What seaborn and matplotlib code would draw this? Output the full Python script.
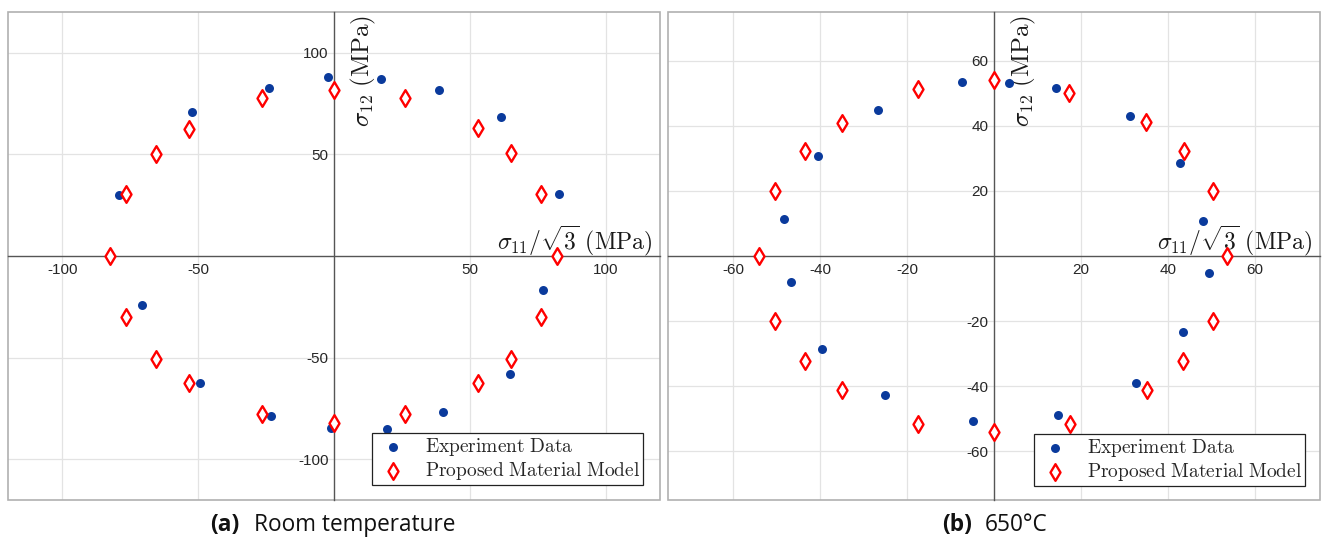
import numpy as np
import pandas as pd
import matplotlib
matplotlib.use("Agg")
import matplotlib.pyplot as plt
from matplotlib.patches import Rectangle
import seaborn as sns

# ---------------- data ----------------
rt_exp_x = [-79.1, -52.4, -24.1, -2.1, 17.2, 38.6, 61.4, 83.0, 77.1, 64.8, 40.3, 19.6, -1.2, -23.3, -49.3, -70.7]
rt_exp_y = [29.9, 70.7, 82.5, 87.9, 87.1, 81.4, 68.5, 30.5, -16.7, -57.8, -76.6, -85.0, -84.6, -78.9, -62.7, -24.0]
rt_mod_x = [-82.4, -76.6, -65.5, -53.2, -26.4, 0.0, 26.1, 52.9, 65.0, 76.1, 82.1, 76.1, 65.0, 52.9, 26.1, 0.0, -26.5, -53.2, -65.5, -76.7]
rt_mod_y = [0.0, 30.4, 50.3, 62.7, 77.8, 81.7, 77.8, 62.9, 50.5, 30.5, 0.0, -30.2, -50.5, -62.6, -77.6, -82.0, -77.6, -62.6, -50.5, -30.2]

ht_exp_x = [3.4, 14.3, 31.3, 42.7, 48.1, 49.5, 43.5, 32.7, 14.8, -4.9, -25.1, -39.5, -46.6, -48.4, -40.6, -26.7, -7.3]
ht_exp_y = [53.1, 51.6, 42.9, 28.6, 10.7, -5.1, -23.5, -39.1, -48.8, -50.8, -42.8, -28.5, -7.9, 11.3, 30.7, 44.8, 53.5]
ht_mod_x = [0.0, 17.2, 34.9, 43.6, 50.4, 53.7, 50.4, 43.5, 35.2, 17.5, 0.0, -17.5, -35.0, -43.4, -50.3, -54.1, -50.3, -43.4, -35.0, -17.5]
ht_mod_y = [54.1, 50.1, 41.3, 32.4, 19.9, 0.0, -19.9, -32.3, -41.2, -51.5, -54.2, -51.5, -41.2, -32.3, -19.9, 0.0, 19.9, 32.4, 41.0, 51.4]

rt_xticks = [-100, -50, 50, 100]
rt_yticks = [-100, -50, 50, 100]
ht_xticks = [-60, -40, -20, 20, 40, 60]
ht_yticks = [-60, -40, -20, 20, 40, 60]

legend_labels = [r"$\mathrm{Experiment\ Data}$", r"$\mathrm{Proposed\ Material\ Model}$"]
xlabel = r"$\sigma_{11}/\sqrt{3}\ (\mathrm{MPa})$"
ylabel = r"$\sigma_{12}\ (\mathrm{MPa})$"
captions = [("(a)", "Room temperature"), ("(b)", "650°C")]

# ---------------- style ----------------
sns.set_style("white")
plt.rcParams["font.family"] = ["Liberation Sans", "DejaVu Sans"]
plt.rcParams["mathtext.fontset"] = "cm"
plt.rcParams["axes.unicode_minus"] = False

BLUE = "#0a3a9c"
RED = "#ff0000"
TICK_COL = "#262626"

W, H = 1322, 538
fig = plt.figure(figsize=(W / 100, H / 100), dpi=100)
fig.patch.set_facecolor("white")


def px_ax(left, right, top, bottom):
    return [left / W, 1 - bottom / H, (right - left) / W, (bottom - top) / H]


ax1 = fig.add_axes(px_ax(8, 660, 12, 500))
ax2 = fig.add_axes(px_ax(668, 1320, 12, 500))


def draw(ax, ex, ey, mx, my, lim, xt, yt, leg_anchor, cap, cap_px):
    df_e = pd.DataFrame({"x": ex, "y": ey})
    df_m = pd.DataFrame({"x": mx, "y": my})
    sns.scatterplot(data=df_e, x="x", y="y", ax=ax, marker="o", s=42, color=BLUE,
                    linewidth=0, zorder=4, label=legend_labels[0])
    sns.scatterplot(data=df_m, x="x", y="y", ax=ax, marker="d", s=72, facecolor="white",
                    edgecolor=RED, linewidth=1.7, zorder=5, label=legend_labels[1])
    ax.set_xlim(-lim, lim)
    ax.set_ylim(-lim, lim)
    ax.set_xticks(xt)
    ax.set_yticks(yt)
    ax.set_xlabel("")
    ax.set_ylabel("")
    ax.grid(True, color="#e3e3e3", linewidth=0.9)
    ax.set_axisbelow(True)
    for s in ["top", "right"]:
        ax.spines[s].set_visible(False)
    for s in ["left", "bottom"]:
        ax.spines[s].set_position(("data", 0))
        ax.spines[s].set_color("#555555")
        ax.spines[s].set_linewidth(1.0)
        ax.spines[s].set_zorder(3)
    ax.add_patch(Rectangle((0, 0), 1, 1, transform=ax.transAxes, fill=False,
                           edgecolor="#b0b0b0", linewidth=1.2, zorder=3, clip_on=False))
    ax.tick_params(axis="x", direction="in", length=5, width=0.9, color="#555555",
                   labelsize=11, labelcolor=TICK_COL, pad=5)
    ax.tick_params(axis="y", direction="in", length=5, width=0.9, color="#555555",
                   labelsize=11, labelcolor=TICK_COL, pad=4)
    # axis labels
    ax.text(0.988, 0.514, xlabel, transform=ax.transAxes, ha="right", va="baseline",
            fontsize=17, color="#1a1a1a")
    ax.text(0.545, 0.993, ylabel, transform=ax.transAxes, ha="center", va="top",
            rotation=90, fontsize=18, color="#1a1a1a")
    leg = ax.legend(loc="lower right", bbox_to_anchor=leg_anchor, borderaxespad=0,
                    fontsize=14, frameon=True, fancybox=False, framealpha=1,
                    edgecolor="#222222", handlelength=1.8, handletextpad=0.75,
                    labelspacing=0.1, borderpad=0.15, markerscale=1.0)
    leg.get_frame().set_linewidth(0.9)
    # caption
    b, rest = cap
    x_b, x_r, base = cap_px
    fig.text(x_b / W, 1 - base / H, b, ha="left", va="baseline", fontsize=16.3,
             fontweight="bold", family=["Open Sans", "DejaVu Sans"], color="#111111")
    fig.text(x_r / W, 1 - base / H, rest, ha="left", va="baseline", fontsize=16.3,
             family=["Open Sans", "DejaVu Sans"], color="#111111")


draw(ax1, rt_exp_x, rt_exp_y, rt_mod_x, rt_mod_y, 120, rt_xticks, rt_yticks,
     (0.974, 0.031), captions[0], (210, 254, 531))
draw(ax2, ht_exp_x, ht_exp_y, ht_mod_x, ht_mod_y, 75, ht_xticks, ht_yticks,
     (0.977, 0.029), captions[1], (942, 985, 531))

fig.savefig("out.png", dpi=100, facecolor="white")
